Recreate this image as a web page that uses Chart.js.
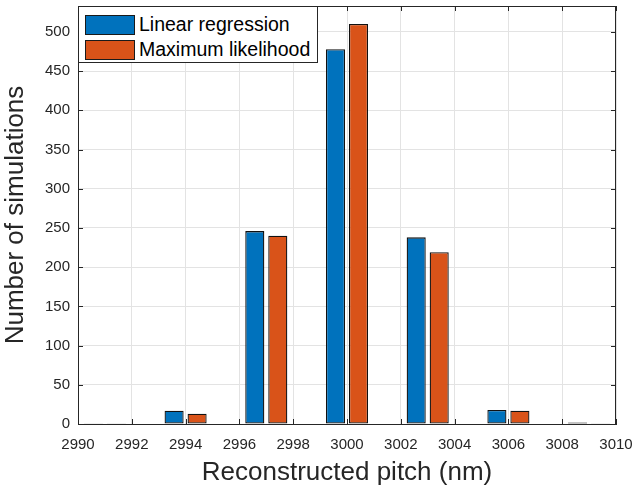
<!DOCTYPE html>
<html lang="en">
<head>
    <meta charset="UTF-8">
    <title>Reconstructed pitch histogram</title>
    <script src="https://cdn.jsdelivr.net/npm/chart.js"></script>
    <style>
        body {
            margin: 0;
            background: #ffffff;
            font-family: "Liberation Sans", Arial, sans-serif;
        }
        #wrap {
            position: relative;
            width: 634px;
            height: 493px;
        }
        #leyenda {
            position: absolute;
            left: 78px;
            top: 6px;
            width: 240px;
            height: 57px;
            border: 1px solid #262626;
            background: #ffffff;
            box-sizing: border-box;
            padding-top: 5px;
        }
        .item {
            display: flex;
            align-items: center;
            height: 25px;
            margin-left: 6px;
            font-size: 19.5px;
            color: #000000;
        }
        .swatch {
            width: 50px;
            height: 20px;
            border: 1px solid #1a1a1a;
            box-sizing: border-box;
            margin-right: 4px;
        }
    </style>
</head>
<body>
<div id="wrap">
    <canvas id="grafica" width="634" height="493"></canvas>
    <div id="leyenda"></div>
</div>
<script>
    // bin centres (nm) and counts
    const centros = [2991, 2994, 2997, 3000, 3003, 3006, 3009];
    const linearRegression = [1, 17, 246, 478, 238, 18, 2];
    const maxLikelihood = [1, 13, 240, 510, 219, 17, 1];

    const seriesNames = ["Linear regression", "Maximum likelihood"];
    const seriesColors = ["#0072BD", "#D95319"];

    const xTicks = { min: 2990, max: 3010, step: 2 };
    const yTicks = { min: 0, max: 533, step: 50 };

    Chart.defaults.font.family = '"Liberation Sans", Arial, sans-serif';
    Chart.defaults.color = "#262626";

    const toPoints = vals => centros.map((c, i) => ({ x: c, y: vals[i] }));

    // box + inward tick marks, MATLAB style
    const cajaEjes = {
        id: "cajaEjes",
        afterDraw(chart) {
            const ctx = chart.ctx;
            const a = chart.chartArea;
            const len = 5;
            ctx.save();
            ctx.strokeStyle = "#262626";
            ctx.lineWidth = 1;
            ctx.strokeRect(Math.round(a.left) + 0.5, Math.round(a.top) + 0.5,
                Math.round(a.right - a.left) - 1, Math.round(a.bottom - a.top));
            ctx.beginPath();
            const xs = chart.scales.x;
            xs.ticks.forEach((t, i) => {
                const px = Math.round(xs.getPixelForTick(i)) + 0.5;
                ctx.moveTo(px, a.bottom); ctx.lineTo(px, a.bottom - len);
                ctx.moveTo(px, a.top); ctx.lineTo(px, a.top + len);
            });
            const ys = chart.scales.y;
            ys.ticks.forEach((t, i) => {
                const py = Math.round(ys.getPixelForTick(i)) + 0.5;
                ctx.moveTo(a.left, py); ctx.lineTo(a.left + len, py);
                ctx.moveTo(a.right, py); ctx.lineTo(a.right - len, py);
            });
            ctx.stroke();
            ctx.restore();
        }
    };

    let ctx = document.getElementById("grafica").getContext("2d");
    let grafico = new Chart(ctx, {
        type: "bar",
        data: {
            datasets: [
                {
                    label: seriesNames[0],
                    data: toPoints(linearRegression),
                    backgroundColor: seriesColors[0],
                    borderColor: "#111111",
                    borderWidth: 1.3,
                    borderSkipped: false
                },
                {
                    label: seriesNames[1],
                    data: toPoints(maxLikelihood),
                    backgroundColor: seriesColors[1],
                    borderColor: "#111111",
                    borderWidth: 1.3,
                    borderSkipped: false
                }
            ]
        },
        options: {
            responsive: false,
            animation: false,
            categoryPercentage: 0.855,
            barPercentage: 0.83,
            layout: { padding: { top: 6, right: 18, left: 0, bottom: 0 } },
            plugins: {
                legend: { display: false },
                tooltip: { enabled: false }
            },
            scales: {
                x: {
                    type: "linear",
                    offset: false,
                    min: xTicks.min,
                    max: xTicks.max,
                    grid: { offset: false, color: "#e3e3e3", drawTicks: false },
                    border: { color: "#262626" },
                    ticks: {
                        stepSize: xTicks.step,
                        padding: 12,
                        font: { size: 15 },
                        color: "#262626",
                        callback: v => String(v)
                    },
                    title: {
                        display: true,
                        text: "Reconstructed pitch (nm)",
                        font: { size: 26 },
                        color: "#262626",
                        padding: { top: 0, bottom: 5 }
                    },
                    afterFit: s => {
                        s.height = 69;
                        s.paddingLeft = 0;
                        s.paddingRight = 0;
                    }
                },
                y: {
                    min: yTicks.min,
                    max: yTicks.max,
                    grid: { color: "#e3e3e3", drawTicks: false },
                    border: { color: "#262626" },
                    ticks: {
                        stepSize: yTicks.step,
                        includeBounds: false,
                        padding: 8,
                        font: { size: 15 },
                        color: "#262626"
                    },
                    title: {
                        display: true,
                        text: "Number of simulations",
                        font: { size: 26 },
                        color: "#262626",
                        padding: { top: 0, bottom: 4 }
                    },
                    afterFit: s => {
                        s.width = 78;
                        s.paddingTop = 0;
                        s.paddingBottom = 0;
                    }
                }
            }
        },
        plugins: [cajaEjes]
    });

    // legend inside the axes (top-left)
    const leyenda = document.getElementById("leyenda");
    grafico.data.datasets.forEach(ds => {
        const item = document.createElement("div");
        item.className = "item";
        const sw = document.createElement("span");
        sw.className = "swatch";
        sw.style.background = ds.backgroundColor;
        const txt = document.createElement("span");
        txt.textContent = ds.label;
        item.appendChild(sw);
        item.appendChild(txt);
        leyenda.appendChild(item);
    });
</script>
</body>
</html>
